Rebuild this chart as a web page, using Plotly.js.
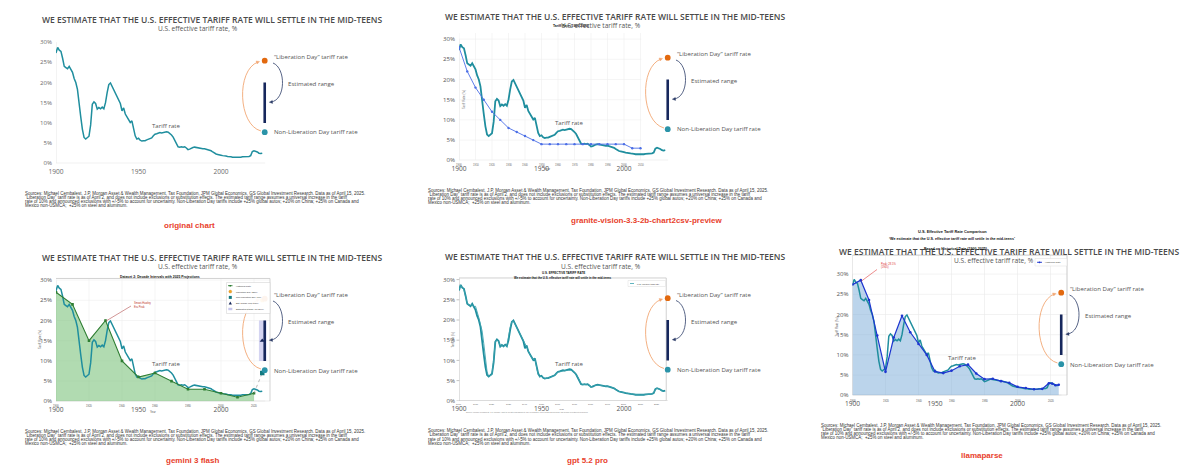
<!DOCTYPE html>
<html><head><meta charset="utf-8">
<script src="https://cdn.plot.ly/plotly-3.0.1.min.js"></script>
<style>html,body{margin:0;padding:0;background:#fff}#chart{width:1200px;height:466px}</style>
</head><body><div id="chart"></div>
<script>
// ---------- DATA ----------
const years = [
1900,1901,1902,1903,1904,1905,1906,1907,1908,1909,
1910,1911,1912,1913,1914,1915,1916,1917,1918,1919,
1920,1921,1922,1923,1924,1925,1926,1927,1928,1929,
1930,1931,1932,1933,1934,1935,1936,1937,1938,1939,
1940,1941,1942,1943,1944,1945,1946,1947,1948,1949,
1950,1951,1952,1953,1954,1955,1956,1957,1958,1959,
1960,1961,1962,1963,1964,1965,1966,1967,1968,1969,
1970,1971,1972,1973,1974,1975,1976,1977,1978,1979,
1980,1981,1982,1983,1984,1985,1986,1987,1988,1989,
1990,1991,1992,1993,1994,1995,1996,1997,1998,1999,
2000,2001,2002,2003,2004,2005,2006,2007,2008,2009,
2010,2011,2012,2013,2014,2015,2016,2017,2018,2019,
2020,2021,2022,2023,2024,2025];
const tariffRate = [
27.3,28.7,28.0,27.7,26.0,24.0,23.7,23.4,24.0,23.3,
22.5,21.0,20.0,18.3,15.5,11.5,8.4,6.4,6.0,6.4,
6.7,9.5,14.6,15.2,14.8,13.4,13.8,13.5,13.9,13.5,
15.0,17.5,19.5,19.9,19.0,18.0,17.3,16.2,15.5,14.8,
13.0,13.7,12.2,11.6,10.8,10.1,10.5,8.6,6.8,6.0,
6.2,5.7,5.5,5.6,5.6,5.8,6.0,6.1,6.3,6.8,
7.2,7.3,7.4,7.6,7.5,7.6,7.7,7.8,7.7,7.4,
7.0,6.5,5.8,5.0,4.1,4.0,4.1,4.0,4.1,3.8,
3.4,3.5,3.8,3.9,4.0,3.9,3.8,3.7,3.6,3.6,
3.6,3.5,3.4,3.3,3.1,2.8,2.5,2.3,2.2,2.0,
2.0,1.9,1.9,1.8,1.7,1.7,1.6,1.5,1.5,1.4,
1.5,1.5,1.5,1.6,1.6,1.6,1.6,1.7,1.9,2.9,
3.1,3.0,2.8,2.5,2.4,2.5];
const liberationDayRate = 25.4;
const nonLiberationRate = 7.7;
const estRangeLow = 10, estRangeHigh = 20;

const yTicks = [0,5,10,15,20,25,30];
const yTickText = ['0%','5%','10%','15%','20%','25%','30%'];
const xTicks = [1900,1950,2000];
const xTickText = ['1900','1950','2000'];

// granite-vision reconstruction
const graniteYears = [1900,1905,1910,1915,1920,1925,1930,1935,1940,1945,1950,1955,1960,1965,1970,1975,1980,1985,1990,1995,2000,2005,2010];
const graniteVals  = [28,22,18,15,12,10,8,7,6,5,4,4,4,4,4,4,4,4,4,4,4,3,3];
const graniteTicks = [1900,1910,1920,1930,1940,1950,1960,1970,1980,1990,2000,2010];

// gemini reconstruction
const geminiYears = [1900,1910,1920,1930,1940,1950,1960,1970,1980,1990,2000,2010,2020];
const geminiVals  = [27,24,15,20,10,6,7,5,3,3,2,1,2];
const geminiLib = 25, geminiNon = 7, geminiMid = 15;
const geminiTicks = [1900,1920,1940,1960,1980,2000,2020];
const geminiLegend = ['Historical Rate','Liberation Day (25%)','Non-Liberation Day (7%)','Est. Range Mid (15%)','Estimated Range (10-20%)'];

// gpt reconstruction
const gptYears = [1900,1901,1902,1903,1904,1905,1907,1908,1909,1910,
1912,1913,1914,1915,1916,1917,1918,1919,1920,
1921,1922,1923,1924,1925,1926,1927,1928,1929,1930,
1931,1932,1933,
1941,1942,1943,1944,1945,1946,1947,1948,1949,1950,
1952,1954,1956,1958,1960,1962,1964,1966,1968,1970,
1972,1974,1975,1978,1980,1982,1984,1986,1988,1990,
1992,1994,1996,1998,2000,2002,2004,2006,2008,2010,
2012,2014,2016,2018,2019,2020,2021,2022,2023,2024];
const gptVals = [27.5,28.6,28.0,27.5,25.8,24.0,23.6,23.8,23.3,23.4,
20.6,19.2,17.3,14.2,10.2,7.2,6.0,6.2,6.5,
10.3,14.6,15.1,14.7,13.5,13.7,13.4,13.8,13.5,16.1,
18.2,19.6,19.7,
13.4,12.2,11.4,10.7,10.2,10.4,8.2,6.4,6.0,6.1,
5.5,5.6,6.0,6.3,7.1,7.3,7.5,7.6,7.6,7.0,
5.9,4.2,4.0,4.1,3.5,3.8,3.9,3.8,3.6,3.6,
3.4,3.1,2.5,2.2,2.0,1.9,1.7,1.6,1.5,1.5,
1.5,1.6,1.6,1.9,2.9,3.1,3.0,2.8,2.5,2.4];
const gptTicks = [1900,1910,1920,1930,1940,1950,1960,1970,1980,1990,2000,2010,2020];

// llamaparse reconstruction
const llamaYears = [1900,1905,1910,1915,1920,1925,1930,1935,1940,1945,1950,1955,1960,1965,1970,1975,1980,1985,1990,1995,2000,2005,2010,2015,2019,2021,2023,2025];
const llamaVals  = [27.4,28.5,23.6,14.8,5.8,14.3,19.7,15.6,12.7,10.0,5.9,5.5,6.1,7.2,7.6,5.4,4.0,4.1,3.5,3.1,2.1,1.8,1.5,1.6,3.0,2.9,2.5,2.6];
const llamaTicks = [1900,1920,1940,1960,1980,2000,2020];

const sourceLines = [
'Sources: Michael Cembalest, J.P. Morgan Asset & Wealth Management, Tax Foundation, JPM Global Economics, GS Global Investment Research. Data as of April 15, 2025.',
'\u201cLiberation Day\u201d tariff rate is as of April 2, and does not include exclusions or substitution effects. The estimated tariff range assumes a universal increase in the tariff',
'rate of 10% and announced exclusions with +/-5% to account for uncertainty. Non-Liberation Day tariffs include +25% global autos; +20% on China; +25% on Canada and',
'Mexico non-USMCA;  +25% on steel and aluminum.'];

// ---------- LAYOUT HELPERS ----------
const W=1200, H=466, PXY=1.65, PYP=4.04;
const panels=[
 {dx:0,   dy:0,    label:'original chart', lx:189, ly:225},
 {dx:403, dy:-3,   label:'granite-vision-3.3-2b-chart2csv-preview', lx:646, ly:220},
 {dx:0,   dy:238,  label:'gemini 3 flash', lx:192, ly:460},
 {dx:403, dy:237.5,label:'gpt 5.2 pro', lx:587, ly:460.5},
 {dx:796.5,dy:232, label:'llamaparse', lx:982, ly:455}
];
const layout={width:W,height:H,margin:{l:0,r:0,t:0,b:0},paper_bgcolor:'#fff',plot_bgcolor:'rgba(0,0,0,0)',showlegend:false,annotations:[],shapes:[]};
const data=[];
const xp=px=>px/W, yp=py=>1-py/H;
const P=(px,py)=>xp(px).toFixed(5)+','+yp(py).toFixed(5);
function A(text,px,py,o){o=o||{};
  layout.annotations.push({text:text,x:xp(px),y:yp(py),xref:'paper',yref:'paper',showarrow:false,
   xanchor:o.xa||'center',yanchor:'middle',textangle:o.ang||0,
   font:{family:o.f||'Open Sans',size:o.s||5,color:o.c||'#555',weight:o.w||400}});}
function AD(text,x,y,xs,o){o=o||{};
  layout.annotations.push({text:text,x:x,y:y,xref:'x'+xs,yref:'y'+xs,showarrow:false,
   xanchor:o.xa||'center',yanchor:'middle',yshift:o.ys||0,xshift:o.xsh||0,textangle:o.ang||0,
   font:{family:o.f||'Liberation Sans',size:o.s||3,color:o.c||'#444',weight:o.w||400}});}
function S(s){layout.shapes.push(s);}
const narrow='Liberation Sans Narrow, Liberation Sans, Arial';

// ---------- PANELS ----------
panels.forEach((p,i)=>{
  const n=i+1, xs=n===1?'':String(n);
  const x0=56+p.dx, y0=163.3+p.dy;
  const tc = n===1 ? '#6a6a6a' : '#555';
  layout['xaxis'+xs]={domain:[x0/W,(x0+145*PXY)/W],range:[1900,2045],anchor:'y'+xs,showgrid:false,zeroline:false,showline:false,
     tickmode:'array',tickvals:xTicks,ticktext:xTickText,ticks:'',ticklabelstandoff:3,tickfont:{family:'Open Sans',size:6.6,color:tc},fixedrange:true};
  layout['yaxis'+xs]={domain:[1-y0/H,1-(y0-36*PYP)/H],range:[0,36],anchor:'x'+xs,showgrid:false,zeroline:false,showline:false,
     tickmode:'array',tickvals:yTicks,ticktext:yTickText,ticks:'',ticklabelstandoff:3,tickfont:{family:'Open Sans',size:6.1,color:tc},fixedrange:true};
  const xa='x'+xs, ya='y'+xs;
  S({type:'line',xref:xa,yref:ya,x0:1900,x1:2026.7,y0:0,y1:0,line:{color:'#d6d6d6',width:0.8},layer:'below'});
  S({type:'line',xref:xa,yref:ya,x0:1900,x1:1900,y0:0,y1:30,line:{color:'#e2e2e2',width:0.8},layer:'below'});

  const dx=p.dx, dy=p.dy;
  const orig = (w)=>({x:years,y:tariffRate,xaxis:xa,yaxis:ya,type:'scatter',mode:'lines',line:{color:'#1f8e9e',width:w||1.4},hoverinfo:'skip'});

  if(n===1){ data.push(orig(1.5)); }
  if(n===2){
    graniteTicks.forEach(t=>{S({type:'line',xref:xa,yref:ya,x0:t,x1:t,y0:0,y1:31.5,line:{color:'#efefef',width:0.6},layer:'below'});
       AD(String(t),t,0,xs,{ys:-5,s:2.6,c:'#666'});});
    [5,10,15,20,25,30].forEach(v=>S({type:'line',xref:xa,yref:ya,x0:1898,x1:2010.5,y0:v,y1:v,line:{color:'#efefef',width:0.6},layer:'below'}));
    S({type:'line',xref:xa,yref:ya,x0:1898,x1:1898,y0:0,y1:31.5,line:{color:'#cfcfcf',width:0.7},layer:'below'});
    data.push(orig(1.8));
    data.push({x:graniteYears,y:graniteVals,xaxis:xa,yaxis:ya,type:'scatter',mode:'lines+markers',line:{color:'#4b6ee6',width:0.9},marker:{color:'#4b6ee6',size:2.4},hoverinfo:'skip'});
    A('Tariff Rate (1900-2020)',571,26,{f:narrow,s:3.4,c:'#111',w:700});
    A('Tariff Rate (%)',464,100,{f:narrow,s:3,c:'#777',ang:-90});
    A('Year',547,169.5,{f:narrow,s:3,c:'#555'});
  }
  if(n===3){
    [5,10,15,20,25,30].forEach(v=>S({type:'line',xref:xa,yref:ya,x0:1900,x1:2029.7,y0:v,y1:v,line:{color:'#eeeeee',width:0.6},layer:'below'}));
    geminiTicks.forEach(t=>{S({type:'line',xref:xa,yref:ya,x0:t,x1:t,y0:0,y1:30.4,line:{color:'#eeeeee',width:0.6},layer:'below'});
       AD(String(t),t,0,xs,{ys:-4.5,s:2.6,c:'#555'});});
    S({type:'rect',xref:xa,yref:ya,x0:1899.5,x1:2029.7,y0:0,y1:30.4,line:{color:'#c8c8c8',width:0.8},layer:'below'});
    S({type:'rect',xref:xa,yref:ya,x0:2023,x1:2027.5,y0:estRangeLow,y1:estRangeHigh,fillcolor:'rgba(160,160,225,0.45)',line:{width:0},layer:'below'});
    data.push({x:geminiYears,y:geminiVals,xaxis:xa,yaxis:ya,type:'scatter',mode:'lines',line:{width:0,color:'rgba(0,0,0,0)'},fill:'tozeroy',fillcolor:'rgba(125,195,125,0.6)',hoverinfo:'skip'});
    data.push(orig(1.5));
    data.push({x:geminiYears,y:geminiVals,xaxis:xa,yaxis:ya,type:'scatter',mode:'lines+markers',line:{color:'#2e7d32',width:1.1},marker:{color:'#2e7d32',size:2.6,symbol:'square'},hoverinfo:'skip'});
    data.push({x:[geminiYears[geminiYears.length-1],2025],y:[geminiVals[geminiVals.length-1],geminiNon],xaxis:xa,yaxis:ya,type:'scatter',mode:'lines',line:{color:'#999',width:0.7,dash:'dot'},hoverinfo:'skip'});
    data.push({x:[2025],y:[geminiLib],xaxis:xa,yaxis:ya,type:'scatter',mode:'markers',marker:{color:'#f5a623',size:5,symbol:'pentagon'},cliponaxis:false,hoverinfo:'skip'});
    data.push({x:[2025],y:[geminiNon],xaxis:xa,yaxis:ya,type:'scatter',mode:'markers',marker:{color:'#137a80',size:4.5,symbol:'square'},cliponaxis:false,hoverinfo:'skip'});
    data.push({x:[2025],y:[geminiMid],xaxis:xa,yaxis:ya,type:'scatter',mode:'markers',marker:{color:'#15265a',size:4.5,symbol:'triangle-up'},cliponaxis:false,hoverinfo:'skip'});
    S({type:'line',xref:'paper',yref:'paper',x0:xp(106),y0:yp(321),x1:xp(131),y1:yp(306),line:{color:'#b45050',width:0.6}});
    A('Smoot-Hawley',132,303.3,{f:narrow,s:2.6,c:'#c0392b',xa:'left'});
    A('Era Peak',132,306.8,{f:narrow,s:2.6,c:'#c0392b',xa:'left'});
    A('Dataset 2: Decade Intervals with 2025 Projections',160,276.7,{f:narrow,s:3.4,c:'#111',w:700});
    A('Tariff Rate (%)',40,340,{f:narrow,s:3,c:'#666',ang:-90});
    A('Year',152.5,412.3,{f:narrow,s:2.8,c:'#555'});
  }
  if(n===4){
    S({type:'rect',xref:xa,yref:ya,x0:1900,x1:2025.6,y0:0,y1:30.4,line:{color:'#c4c4c4',width:0.8},layer:'below'});
    gptTicks.forEach(t=>AD(String(t),t,0,xs,{ys:-3.5,s:2.2,c:'#555'}));
    yTicks.forEach(v=>S({type:'line',xref:'paper',yref:ya,x0:xp(456.5),x1:xp(459.3),y0:v,y1:v,line:{color:'#888',width:0.5}}));
    data.push(orig(1.8));
    data.push({x:gptYears,y:gptVals,xaxis:xa,yaxis:ya,type:'scatter',mode:'lines',line:{color:'#3aa2ae',width:0.9},hoverinfo:'skip'});
    A('U.S. EFFECTIVE TARIFF RATE',563,273,{f:narrow,s:3,c:'#111',w:700});
    A('We estimate that the U.S. effective tariff rate will settle in the mid-teens',563,277.6,{f:narrow,s:2.9,c:'#111',w:700});
    S({type:'rect',xref:'paper',yref:'paper',x0:xp(628),x1:xp(665.5),y0:yp(286.5),y1:yp(280.5),line:{color:'#ddd',width:0.5},fillcolor:'rgba(255,255,255,0.9)'});
    S({type:'line',xref:'paper',yref:'paper',x0:xp(630),x1:xp(634),y0:yp(283.5),y1:yp(283.5),line:{color:'#3aa2ae',width:0.8}});
    A('U.S. effective tariff rate',635,283.5,{f:narrow,s:2.2,c:'#333',xa:'left'});
    A('Tariff rate (%)',452.5,340,{f:narrow,s:2.6,c:'#666',ang:-90});
    A('Year',561,409,{f:narrow,s:2.4,c:'#555'});
    A('Source: Michael Cembalest, J.P. Morgan Asset & Wealth Management; Tax Foundation; JPM Global Economics; GS Global Investment Research',527,412.8,{f:narrow,s:1.9,c:'#888'});
  }
  if(n===5){
    [0,5,10,15,20,25,30].forEach(v=>S({type:'line',xref:xa,yref:ya,x0:1900,x1:2030,y0:v,y1:v,line:{color:'#e9e9e9',width:0.6},layer:'below'}));
    llamaTicks.forEach(t=>{S({type:'line',xref:xa,yref:ya,x0:t,x1:t,y0:0,y1:34.7,line:{color:'#e9e9e9',width:0.6},layer:'below'});
       AD(String(t),t,0,xs,{ys:-5.5,s:2.6,c:'#555'});});
    S({type:'rect',xref:xa,yref:ya,x0:1899.8,x1:2030,y0:0,y1:34.7,line:{color:'#bdbdbd',width:0.8},layer:'below'});
    data.push({x:llamaYears,y:llamaVals,xaxis:xa,yaxis:ya,type:'scatter',mode:'lines',line:{width:0,color:'rgba(0,0,0,0)'},fill:'tozeroy',fillcolor:'rgba(120,170,215,0.5)',hoverinfo:'skip'});
    data.push(orig(1.5));
    data.push({x:llamaYears,y:llamaVals,xaxis:xa,yaxis:ya,type:'scatter',mode:'lines+markers',line:{color:'#1d35d0',width:1.2},marker:{color:'#1d35d0',size:2.6},hoverinfo:'skip'});
    S({type:'line',xref:'paper',yref:'paper',x0:xp(861.5),y0:yp(281),x1:xp(877),y1:yp(269.5),line:{color:'#e04040',width:0.6}});
    A('Peak: 28.5%',879,263.5,{f:narrow,s:2.6,c:'#e03030',xa:'left'});
    A('(1905)',879,267,{f:narrow,s:2.6,c:'#e03030',xa:'left'});
    S({type:'rect',xref:'paper',yref:'paper',x0:xp(1035),x1:xp(1067),y0:yp(266),y1:yp(258.5),line:{color:'#ddd',width:0.5},fillcolor:'rgba(255,255,255,0.9)'});
    S({type:'line',xref:'paper',yref:'paper',x0:xp(1037),x1:xp(1042),y0:yp(262.3),y1:yp(262.3),line:{color:'#1d35d0',width:0.9}});
    S({type:'circle',xref:'paper',yref:'paper',x0:xp(1038.6),x1:xp(1040.4),y0:yp(263.2),y1:yp(261.4),fillcolor:'#1d35d0',line:{width:0}});
    A('Historical Rate',1043,262.3,{f:narrow,s:2.4,c:'#333',xa:'left'});
    A('U.S. Effective Tariff Rate Comparison',952,231,{f:narrow,s:3.9,c:'#111',w:700});
    A('\u2018We estimate that the U.S. effective tariff rate will settle in the mid-teens\u2019',952,239,{f:narrow,s:3.7,c:'#111',w:700});
    A('Tariff Rate (%)',836.7,326.7,{f:narrow,s:3,c:'#666',ang:-90});
  }

  // ----- original chart decorations -----
  data.push({x:[2026.5,2026.5],y:[estRangeLow,estRangeHigh],xaxis:xa,yaxis:ya,type:'scatter',mode:'lines',line:{color:'#16275c',width:2.6},cliponaxis:false,hoverinfo:'skip'});
  data.push({x:[2026.5],y:[liberationDayRate],xaxis:xa,yaxis:ya,type:'scatter',mode:'markers',marker:{color:'#e2690f',size:5.8},cliponaxis:false,hoverinfo:'skip'});
  data.push({x:[2026.5],y:[nonLiberationRate],xaxis:xa,yaxis:ya,type:'scatter',mode:'markers',marker:{color:'#2a93a8',size:5.8},cliponaxis:false,hoverinfo:'skip'});
  S({type:'path',xref:'paper',yref:'paper',path:'M '+P(261+dx,131+dy)+' C '+P(238+dx,125+dy)+' '+P(236+dx,70+dy)+' '+P(258+dx,62+dy),line:{color:'#f2a774',width:0.9}});
  S({type:'path',xref:'paper',yref:'paper',path:'M '+P(259.6+dx,61.5+dy)+' L '+P(257.2+dx,64.0+dy)+' L '+P(256.0+dx,61.0+dy)+' Z',fillcolor:'#f2a774',line:{color:'#f2a774',width:0.4}});
  S({type:'path',xref:'paper',yref:'paper',path:'M '+P(273+dx,63+dy)+' C '+P(286+dx,68+dy)+' '+P(286+dx,100+dy)+' '+P(271+dx,102+dy),line:{color:'#2d3d68',width:0.8}});
  S({type:'path',xref:'paper',yref:'paper',path:'M '+P(269.3+dx,102.2+dy)+' L '+P(272.6+dx,103.4+dy)+' L '+P(272.3+dx,100.4+dy)+' Z',fillcolor:'#2d3d68',line:{color:'#2d3d68',width:0.4}});
  A('WE ESTIMATE THAT THE U.S. EFFECTIVE TARIFF RATE WILL SETTLE IN THE MID-TEENS',40+dx,19+dy,{s:8.5,c:'#4a4a4a',w:600,xa:'left'});
  A('U.S. effective tariff rate, %',197.5+dx,28.9+dy,{s:6.6,c:'#555'});
  A('Tariff rate',166.3+dx,125.7+dy,{s:6.1,c:'#555'});
  A('\u201cLiberation Day\u201d tariff rate',271.5+dx,56.5+dy,{s:6.1,c:'#555',xa:'left'});
  A('Estimated range',286+dx,83.7+dy,{s:6.1,c:'#555',xa:'left'});
  A('Non-Liberation Day tariff rate',271.5+dx,132+dy,{s:6.1,c:'#555',xa:'left'});
  sourceLines.forEach((t,k)=>A(t,22.7+dx,193.3+dy+k*4.1,{f:'Liberation Sans',s:4.45,c:'#333',xa:'left'}));
  A(p.label,p.lx,p.ly,{f:'Liberation Sans',s:8,c:'#e8412c',w:700});

  if(n===3){
    S({type:'rect',xref:'paper',yref:'paper',x0:xp(226.5),x1:xp(270),y0:yp(313.5),y1:yp(282.5),line:{color:'#cccccc',width:0.5},fillcolor:'rgba(255,255,255,0.93)'});
    const ly=[285.7,291.6,297.4,303.2,309];
    S({type:'line',xref:'paper',yref:'paper',x0:xp(228),x1:xp(232.5),y0:yp(ly[0]),y1:yp(ly[0]),line:{color:'#2e7d32',width:0.9}});
    S({type:'rect',xref:'paper',yref:'paper',x0:xp(229.5),x1:xp(231),y0:yp(ly[0]+0.75),y1:yp(ly[0]-0.75),fillcolor:'#2e7d32',line:{width:0}});
    S({type:'circle',xref:'paper',yref:'paper',x0:xp(228.8),x1:xp(231.8),y0:yp(ly[1]+1.5),y1:yp(ly[1]-1.5),fillcolor:'#f5a623',line:{color:'#c07a10',width:0.3}});
    S({type:'rect',xref:'paper',yref:'paper',x0:xp(228.8),x1:xp(231.8),y0:yp(ly[2]+1.5),y1:yp(ly[2]-1.5),fillcolor:'#137a80',line:{width:0}});
    S({type:'path',xref:'paper',yref:'paper',path:'M '+P(230.3,ly[3]-1.7)+' L '+P(231.9,ly[3]+1.4)+' L '+P(228.7,ly[3]+1.4)+' Z',fillcolor:'#15265a',line:{width:0}});
    S({type:'rect',xref:'paper',yref:'paper',x0:xp(228.3),x1:xp(232.3),y0:yp(ly[4]+1.2),y1:yp(ly[4]-1.2),fillcolor:'rgba(160,160,225,0.6)',line:{width:0}});
    geminiLegend.forEach((t,k)=>A(t,233.5,ly[k],{f:narrow,s:2.3,c:'#333',xa:'left'}));
  }
  if(n===5){
    A('Based on Historical Data (1900-2025)',956,249.3,{f:narrow,s:3.6,c:'#111',w:700});
  }
});

Plotly.newPlot('chart',data,layout,{displayModeBar:false,staticPlot:true});
</script></body></html>
